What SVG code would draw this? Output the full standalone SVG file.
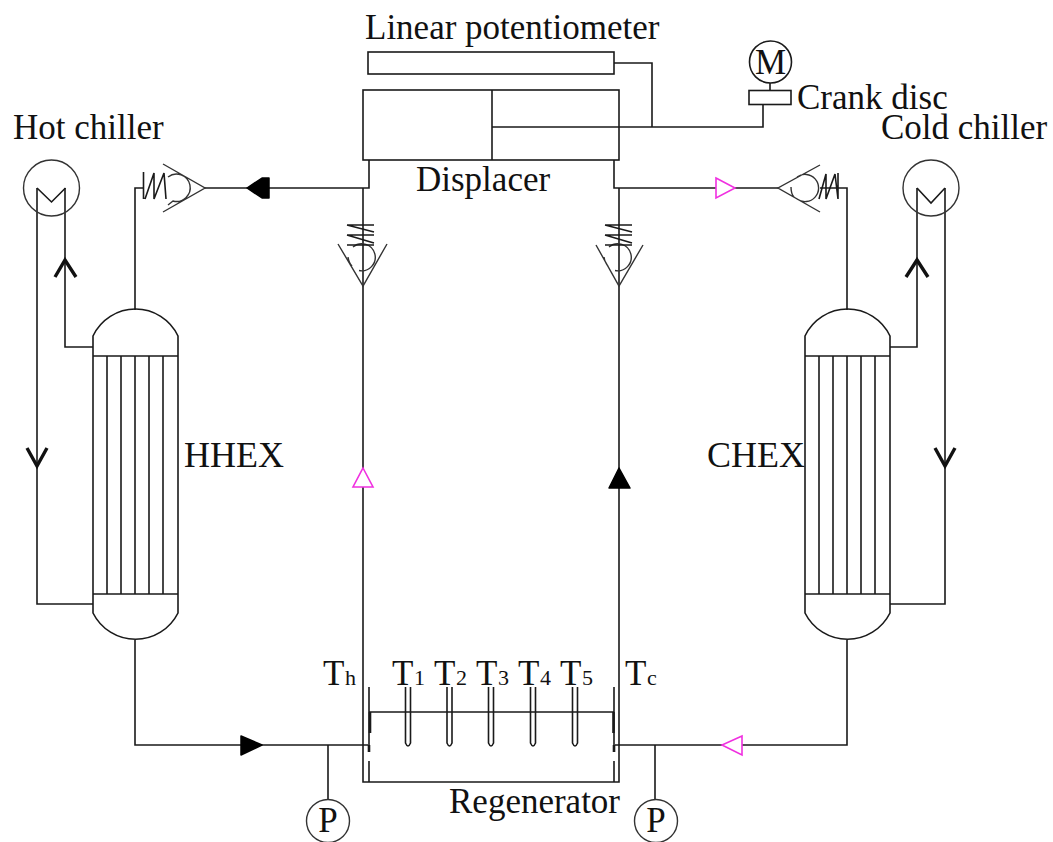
<svg xmlns="http://www.w3.org/2000/svg" width="1053" height="842" viewBox="0 0 1053 842">
<style>
.l{fill:none;stroke:#1a1a1a;stroke-width:1.6}
.g{fill:none;stroke:#333;stroke-width:1.4}
.k{fill:none;stroke:#1a1a1a;stroke-width:2.6}
.t{font-family:"Liberation Serif","Times New Roman",serif;font-size:35px;fill:#111}
.h{font-family:"Liberation Serif","Times New Roman",serif;font-size:36px;fill:#111}
.s{font-family:"Liberation Serif","Times New Roman",serif;font-size:22px;fill:#111}
.b{fill:#000;stroke:#000;stroke-width:1.5;stroke-linejoin:round}
.p{fill:#fff;stroke:#f030e0;stroke-width:1.6}
.o{fill:none;stroke:#111;stroke-width:3.4}
</style>
<rect width="1053" height="842" fill="#fff"/>
<g id="connectors">
<path class="l" d="M614 63H652V127M492 127H763V105M770 83V90"/>
<path class="l" d="M205 188H369V160M614 160V188H778M820 188H847V310M135 310V188H144"/>
<path class="l" d="M363 188V782H619V188"/>
<path class="l" d="M37 188V604H93M65 188V347H93M917 188V347H890M945 188V604H890"/>
<path class="l" d="M135 640V745H368M847 640V745H615M328 745V800M655 745V800"/>
<polygon class="b" points="247,188 262,178 269,178 269,198 262,198"/>
<polygon class="p" points="716,178 735,188 716,198"/>
<polygon class="b" points="241,736 262,745 241,755"/>
<polygon class="p" points="742,736 722,745 742,755"/>
<polygon class="p" points="363,468 373,487 353,487"/>
<polygon class="b" points="619,468 630,488 609,488"/>
<path class="o" d="M55 277L65 260L76 277M906 277L917 260L928 277M27 448L37 466L47 448M935 448L945 466L955 448"/>
</g>
<g id="linear-potentiometer"><rect class="l" x="368" y="52" width="246" height="22"/><text class="t" x="365" y="39">Linear potentiometer</text></g>
<g id="displacer"><rect class="l" x="363" y="90" width="256" height="70"/><path class="l" d="M492 90V160"/><text class="t" x="416" y="191">Displacer</text></g>
<g id="motor"><circle class="l" cx="770.500" cy="62" r="21"/><text class="t" x="770.500" y="74" text-anchor="middle">M</text></g>
<g id="crank-disc"><rect class="l" x="749" y="90.500" width="42" height="14"/><text class="t" x="797" y="109">Crank disc</text></g>
<g id="hot-chiller"><circle class="g" cx="51.500" cy="188" r="28"/><path class="l" d="M37 188L51.500 202L65.500 188"/><text class="t" x="13" y="139">Hot chiller</text></g>
<g id="cold-chiller"><circle class="g" cx="931" cy="188" r="28"/><path class="l" d="M917 188L931 203L945 188"/><text class="t" x="881" y="139">Cold chiller</text></g>
<g id="valve-left"><path class="g" d="M163 164L205 188L163 212M168 177A13.700 13.700 0 1 1 173 201L168 205"/><path class="l" d="M143.500 172V199M145 199L154 173V199L164 173L166 199"/></g>
<g id="valve-right"><path class="g" d="M820 165L778 188L820 212M797 177A13.600 13.600 0 1 1 797 199M791 187Q791 194 794 197"/><path class="l" d="M819 199L826 174V199L835 174L838 199V173"/></g>
<g id="valve-hot-side"><path class="g" d="M338 244L363 286L387 244M353 247A13.500 13.500 0 1 1 359 270.500M348 257Q349 263 352 266"/><path class="l" d="M347 225H374M347 235H374M347 245H374M347 225L374 232M347 235L374 243"/></g>
<g id="valve-cold-side"><path class="g" d="M596 245L619 286L643 245M609 247A13.500 13.500 0 1 1 615 270.500M604 257Q605 263 608 266"/><path class="l" d="M605 225H632M605 235H632M605 245H632M605 225L632 232M605 235L632 243"/></g>
<g id="hhex">
<path class="l" d="M93 356V336A47 47 0 0 1 178 336V356M93 356H178M93 356V594M178 356V594M93 594H178M93 594V613A47.500 47.500 0 0 0 178 613V594"/>
<path class="l" d="M107 356V594M121 356V594M135 356V594M149 356V594M163 356V594"/>
<text class="h" x="184" y="467">HHEX</text>
</g>
<g id="chex">
<path class="l" d="M805 356V336A47 47 0 0 1 890 336V356M805 356H890M805 356V594M890 356V594M805 594H890M805 594V613A47.500 47.500 0 0 0 890 613V594"/>
<path class="l" d="M819 356V594M833 356V594M847 356V594M861 356V594M875 356V594"/>
<text class="h" x="707" y="467">CHEX</text>
</g>
<g id="regenerator">
<path class="l" d="M369 712H614M369 687V751M369 761V782M614 687V751M614 761V782"/>
<path class="k" d="M370 712V733M613.500 712V733M369 745V752M614 745V752"/>
<path class="l" d="M405.500 687V743Q408 749 410.500 743V687M447 687V743Q449.500 749 452 743V687M488.500 687V743Q491 749 493.500 743V687M530.500 687V743Q533 749 535.500 743V687M572.500 687V743Q575 749 577.500 743V687"/>
<text class="t" x="449" y="813">Regenerator</text>
</g>
<g id="sensor-labels">
<text class="t" x="323" y="685">T</text><text class="s" x="345" y="685">h</text>
<text class="t" x="392" y="685">T</text><text class="s" x="414" y="685">1</text>
<text class="t" x="434" y="685">T</text><text class="s" x="456" y="685">2</text>
<text class="t" x="476" y="685">T</text><text class="s" x="498" y="685">3</text>
<text class="t" x="518" y="685">T</text><text class="s" x="540" y="685">4</text>
<text class="t" x="560" y="685">T</text><text class="s" x="582" y="685">5</text>
<text class="t" x="625" y="685">T</text><text class="s" x="647" y="685">c</text>
</g>
<g id="pressure-hot"><circle class="g" cx="328" cy="821" r="21.500"/><text class="t" x="328" y="832" text-anchor="middle">P</text></g>
<g id="pressure-cold"><circle class="g" cx="656" cy="821" r="21.500"/><text class="t" x="656" y="832" text-anchor="middle">P</text></g>
</svg>
